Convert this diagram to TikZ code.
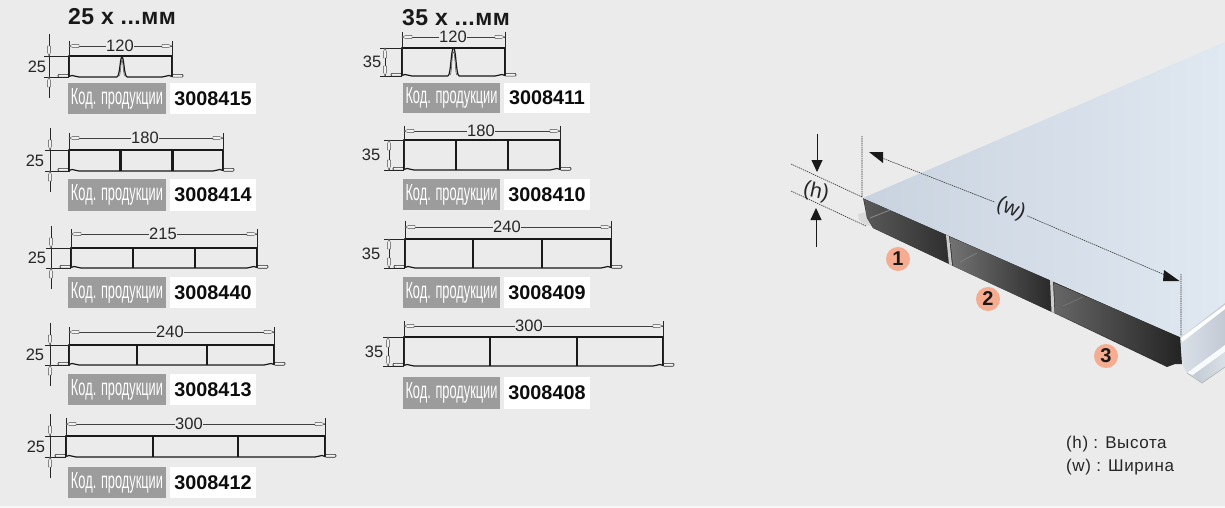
\documentclass[tikz,border=0pt]{standalone}
\usepackage{fontspec}
\usepackage{graphicx}
\setmainfont{Liberation Sans}
\newfontfamily\legendfont[LetterSpace=3.5]{Liberation Sans}
\newfontfamily\titlefont[LetterSpace=2,BoldFont={Liberation Sans Bold}]{Liberation Sans}
\usetikzlibrary{arrows.meta,calc}
\definecolor{bgc}{HTML}{EBEBEB}
\definecolor{codegray}{HTML}{9C9C9C}
\definecolor{badge}{HTML}{F5AC90}
\definecolor{sheetL}{HTML}{C9D3DF}
\definecolor{sheetR}{HTML}{E0E8F1}
\definecolor{sideA}{HTML}{D9E0E8}
\definecolor{sideB}{HTML}{C2CAD3}
\tikzset{
  dimline/.style={line width=0.5pt,draw=black!75},
  extline/.style={line width=0.55pt,draw=black!85},
  profline/.style={line width=1.2pt,draw=black!90,line join=round},
  ribline/.style={line width=2.3pt,draw=black!90},
  dimtext/.style={inner sep=0pt,font=\fontsize{16.5}{16}\selectfont,text=black!85},
  codelabel/.style={inner sep=0pt,text=white},
  codenum/.style={inner sep=0pt,font=\fontsize{19.8}{20}\selectfont\bfseries,text=black!95},
  titletext/.style={inner sep=0pt,anchor=west,font=\fontsize{23}{24}\selectfont\titlefont\bfseries,text=black!90},
  dotline/.style={line width=0.6pt,draw=black!80,dash pattern=on 1.4pt off 0.8pt},
  bigarrow/.style={line width=0.8pt,draw=black!90,-{Triangle[length=12pt,width=11pt]}},
  badgenode/.style={circle,fill=badge,minimum size=24pt,inner sep=0pt,font=\fontsize{20}{20}\selectfont\bfseries,text=black!90},
  legendtext/.style={inner sep=0pt,anchor=west,font=\fontsize{17}{18}\selectfont\legendfont,text=black!85},
  sheetlabel/.style={inner sep=0pt,outer sep=3pt,font=\fontsize{21}{21}\selectfont,text=black!85},
}
\newcommand\hollowh[3]{%
  \draw[line width=0.4pt,draw=black!70,fill=bgc!70!white] (#1,#2)--(#1+#3*4,#2-1.6)--(#1+#3*10,#2-1.6)--(#1+#3*10,#2+1.6)--(#1+#3*4,#2+1.6)--cycle;}
\newcommand\hollowv[3]{%
  \draw[line width=0.4pt,draw=black!70,fill=bgc!70!white] (#1,#2)--(#1-1.6,#2+#3*4)--(#1-1.6,#2+#3*10)--(#1+1.6,#2+#3*10)--(#1+1.6,#2+#3*4)--cycle;}
\newcommand\dimw[7]{%
  \coordinate (L#5#7) at (#1,#3); \coordinate (R#5#7) at (#2,#3);
  \node[dimtext] (T#5#7) at (#7,#3) {#5};
  \draw[extline] (#1,#4)--(#1,#6) (#2,#4)--(#2,#6);
  \draw[dimline] (L#5#7)--(T#5#7.west) (T#5#7.east)--(R#5#7);
  \hollowh{#1}{#3}{1}\hollowh{#2}{#3}{-1}}
\newcommand\bodyp[5]{%
  \draw[line width=0.6pt,draw=black!85,fill=bgc!60!white,rounded corners=1pt] (#1-11,#4-2.6)--(#1,#4-2.6)--(#1,#4+0.2)--(#1-11,#4+0.2)--cycle;
  \draw[line width=0.6pt,draw=black!85,fill=bgc!60!white,rounded corners=1pt] (#2+11,#4-2.6)--(#2,#4-2.6)--(#2,#4+0.2)--(#2+11,#4+0.2)--cycle;
  \draw[profline] (#1,#4)--(#1,#3)--(#2,#3)--(#2,#4);
  \draw[profline] (#1,#4-0.5)--(#1+3,#4-1.5) .. controls (#1+6,#4-1.5) and (#1+7,#4) .. (#1+10,#4)--(#2-10,#4) .. controls (#2-7,#4) and (#2-6,#4-1.5) .. (#2-3,#4-1.5)--(#2,#4-0.5);
  \foreach \r in {#5}{\draw[ribline] (\r,#3)--(\r,#4);}}
\newcommand\dimhA[5]{%
  \node[dimtext,anchor=center] (H#5) at (#4,{(#2+#3)/2}) {25};
  \draw[extline] (#1-5,#2)--(#5,#2) (#1-5,#3)--(#5,#3);
  \draw[extline] (#1,#2-22)--(#1,#3+21);
  \hollowv{#1}{#2}{-1}\hollowv{#1}{#3}{1}}
\newcommand\dimhB[5]{%
  \node[dimtext,anchor=center] (H#5) at (#4,{(#2+#3)/2}) {35};
  \draw[extline] (#1-5,#2)--(#5,#2) (#1-5,#3)--(#5,#3);
  \draw[extline] (#1,#2)--(#1,#3);
  \hollowv{#1}{#2}{1}\hollowv{#1}{#3}{-1}}
\newcommand\codebox[6]{%
  \fill[codegray] (#1,#4) rectangle (#2,#5);
  \fill[white] (#2+4,#4) rectangle (#3,#5);
  \node[codelabel] (C#6) at ({(#1+#2)/2},{(#4+#5)/2}) {\resizebox{92pt}{16pt}{Код. продукции}};
  \node[codenum] (N#6) at ({(#2+4+#3)/2},{(#4+#5)/2}) {#6};}
\begin{document}
\begin{tikzpicture}[x=1pt,y=-1pt]
\useasboundingbox (0,0) rectangle (1225,508);
\fill[bgc] (0,0) rectangle (1225,508);
\fill[white!60!bgc] (0,505.5) rectangle (1225,508);

\node[titletext] (t25) at (68,17) {25 x ...мм};
\node[titletext] (t35) at (402,18) {35 x ...мм};

% --- 25 column ---
\bodyp{69}{172}{56}{77}{}
\fill[bgc] (117,72) rectangle (127,79);
\draw[profline] (117,77) .. controls (120,76) and (120,57) .. (122,57) .. controls (124,57) and (124,76) .. (127,77);
\draw[line width=0.5pt,draw=black!70] (119.5,76) .. controls (121,70) and (121,60) .. (122,60) .. controls (123,60) and (123,70) .. (124.5,76);
\dimw{69}{172}{46}{41}{120}{77}{120}
\dimhA{49}{56}{77}{37}{69}
\codebox{68}{166}{256}{83}{114}{3008415}

\bodyp{69}{223}{150}{171}{120.5,172.5}
\dimw{69}{223}{138}{133}{180}{171}{145}
\dimhA{50}{150}{171}{35}{70}
\codebox{68}{166}{256}{179}{211}{3008414}

\bodyp{71}{257}{248}{268}{133,195}
\dimw{71}{257}{234}{229}{215}{268}{163}
\dimhA{51}{248}{268}{37}{71}
\codebox{68}{166}{256}{277}{308}{3008440}

\bodyp{69}{274}{345}{365}{137,207}
\dimw{69}{274}{332}{327}{240}{365}{170}
\dimhA{50}{345}{365}{35}{70}
\codebox{68}{166}{256}{374}{405}{3008413}

\bodyp{66}{325}{436}{457}{153,238}
\dimw{66}{325}{424}{418}{300}{457}{189}
\dimhA{50}{436}{457}{36}{66}
\codebox{68}{166}{256}{467}{498}{3008412}

% --- 35 column ---
\bodyp{402}{505}{48}{76}{}
\fill[bgc] (448,71) rectangle (459,78);
\draw[profline] (448,76) .. controls (451,75) and (451,48) .. (453.5,48) .. controls (456,48) and (456,75) .. (459,76);
\draw[line width=0.5pt,draw=black!70] (450.5,75) .. controls (452,68) and (452,52) .. (453.5,52) .. controls (455,52) and (455,68) .. (456.5,75);
\dimw{402}{505}{37}{32}{120}{76}{453}
\dimhB{385}{48}{76}{372}{402}
\codebox{403}{500}{590}{83}{113}{3008411}

\bodyp{404}{560}{140}{170}{456,508}
\dimw{404}{560}{131}{126}{180}{170}{481}
\dimhB{389}{140}{170}{371}{404}
\codebox{403}{500}{590}{179}{210}{3008410}

\bodyp{405}{611}{239}{268}{473,542}
\dimw{405}{611}{227}{221}{240}{268}{507}
\dimhB{389}{239}{268}{371}{405}
\codebox{403}{500}{590}{277}{308}{3008409}

\bodyp{404}{663}{337}{366}{490,577}
\dimw{404}{663}{326}{321}{300}{366}{529}
\dimhB{388}{337}{366}{374}{404}
\codebox{403}{500}{590}{377}{409}{3008408}

% --- panel ---
% right-hand return with flange
\shade[left color=sideA,right color=sideB] (1180,337)--(1225,303)--(1225,367)--(1202,383)--(1187,373)--(1183,366)--cycle;
\fill[white] (1181,338)--(1225,305)--(1225,309)--(1182,342)--cycle;
\fill[white!85!sideA] (1187,373)--(1225,345)--(1225,352)--(1193,375)--cycle;
\shade[left color=sideB,right color=sideA] (1193,375)--(1225,352)--(1225,367)--(1202,383)--cycle;
\draw[gray!60,line width=.6pt] (1187,373)--(1202,383)--(1225,367);
% left flange
\fill[gray!30] (858,214)--(866,212)--(873,226)--(866,225)--(859,220)--cycle;
% front opening (cells)
\fill[black!82] (863,198)--(1180,337)--(1182,364)--(1175,364)--(1167,367)--(1052,312)--(951,265)--(873,228)--(867,218)--cycle;
\shade[left color=black!65,middle color=black!78,right color=black!82] (864,199)--(947,235)--(950,264)--(873,228)--(867,218)--cycle;
\shade[left color=black!55,middle color=black!75,right color=black!84] (950,237)--(1050,280)--(1052,312)--(953,266)--cycle;
\shade[left color=black!60,middle color=black!78,right color=black!86] (1054,283)--(1180,337)--(1181,362)--(1167,366)--(1055,313)--cycle;
\draw[black!45,line width=.8pt] (870,218)--(890,210);
\draw[black!50,line width=.8pt] (960,262)--(977,253);
\draw[black!55,line width=.8pt] (1063,306)--(1083,297);
\fill[black!20] (946,235)--(949,236)--(952,265)--(949,264.5)--cycle;
\fill[black!20] (1050,280)--(1053,281)--(1054.5,313)--(1051.5,312)--cycle;
% top sheet
\shade[left color=sheetL,right color=sheetR] (863,198)--(1225,42)--(1225,303)--(1180,337)--cycle;

% dimension marks
\coordinate (hA) at (791,164); \coordinate (hB) at (862,197);
\coordinate (hC) at (791,191); \coordinate (hD) at (866,226);
\coordinate (vA) at (862,136); \coordinate (vB) at (1181,274); \coordinate (vC) at (1181,336);
\coordinate (aT0) at (817,134); \coordinate (aT1) at (817,172);
\coordinate (aB0) at (816,247); \coordinate (aB1) at (816,208);
\coordinate (wA) at (882,158); \coordinate (wB) at (1165,275);
\draw[dotline] (hA)--(hB) (hC)--(hD) (vA)--(hB) (vB)--(vC);
\draw[bigarrow] (aT0)--(aT1);
\draw[bigarrow] (aB0)--(aB1);
\node[rotate=-12,sheetlabel] (hlab) at (816,192) {(h)};
\node[rotate=-23,sheetlabel] (wlab) at (1011,209) {(w)};
\draw[dotline] (wA)--(wlab.west);
\draw[dotline] (wlab.east)--(wB);
\fill[black!90] (869,152)--(883,152)--(883,163)--cycle;
\fill[black!90] (1179.5,281)--(1163,281)--(1164,270)--cycle;

\node[badgenode] (b1) at (898,259) {1};
\node[badgenode] (b2) at (988,299) {2};
\node[badgenode] (b3) at (1106,356) {3};

\node[legendtext] (lh) at (1066,444) {(h) : Высота};
\node[legendtext] (lw) at (1066,467) {(w) : Ширина};
\end{tikzpicture}
\end{document}
